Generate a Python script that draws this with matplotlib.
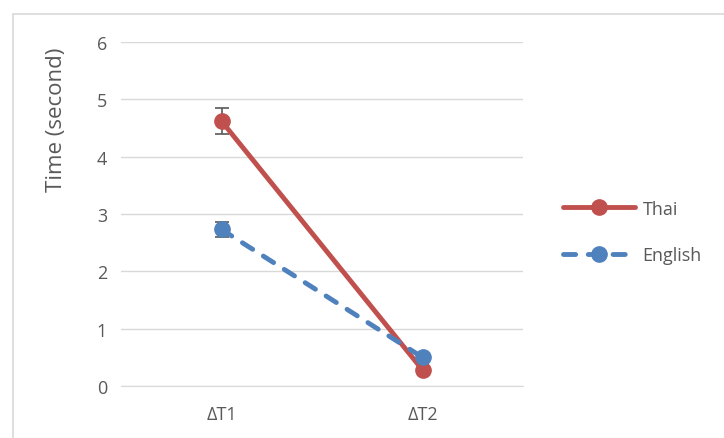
import matplotlib
matplotlib.use("Agg")
import matplotlib.pyplot as plt
from matplotlib.patches import Rectangle

categories = ["ΔT1", "ΔT2"]
thai = [4.62, 0.28]
thai_err = [0.23, 0.0]
english = [2.73, 0.50]
english_err = [0.13, 0.0]
yticks = [0, 1, 2, 3, 4, 5, 6]

plt.rcParams['font.family'] = ['Open Sans', 'DejaVu Sans']
gray = "#595959"
red = "#c0504d"
blue = "#4f81bd"

fig = plt.figure(figsize=(7.24, 4.39), dpi=100)
W, H = 724, 439
# chart frame
fig.patches.append(Rectangle((13 / W, -0.1), 2, (H - 15) / H + 0.1,
                             transform=fig.transFigure, fill=False,
                             edgecolor="#d9d9d9", linewidth=1.2))

ax = fig.add_axes([121 / W, 1 - 387 / H, (523 - 121) / W, (387 - 43) / H])
x = [0.5, 1.5]
ax.plot(x, thai, color=red, lw=3.5, marker="o", ms=11, label="Thai",
        solid_capstyle="round", zorder=3)
ax.errorbar(x, thai, yerr=thai_err, fmt="none", ecolor=gray, elinewidth=1.2,
            capsize=5, capthick=1.2, zorder=2)
ax.plot(x, english, color=blue, lw=3.5, ls=(0, (2.5, 2.6)), marker="o", ms=11,
        label="English", dash_capstyle="round", zorder=4)
ax.errorbar(x, english, yerr=english_err, fmt="none", ecolor=gray,
            elinewidth=1.2, capsize=5, capthick=1.2, zorder=2)

ax.set_xlim(0, 2)
ax.set_ylim(0, 6)
ax.set_yticks(yticks)
ax.set_xticks(x)
ax.set_xticklabels(categories)
ax.grid(axis="y", color="#d9d9d9", lw=1)
ax.set_axisbelow(True)
for s in ["left", "right", "top"]:
    ax.spines[s].set_visible(False)
ax.spines["bottom"].set_color("#d9d9d9")
ax.tick_params(axis="both", length=0, labelsize=13, colors=gray, pad=10)
ax.tick_params(axis="x", pad=14)
ax.set_ylabel("Time (second)", fontsize=16, color=gray)
ax.yaxis.set_label_coords((57 - 121) / (523 - 121), (387 - 120) / (387 - 43))
ax.yaxis.label.set_va("center")

ax.legend(loc="center left", bbox_to_anchor=(547 / W, 1 - 233 / H),
          bbox_transform=fig.transFigure,
          frameon=False, fontsize=13, labelcolor=gray, handlelength=4.0,
          handletextpad=0.4, labelspacing=1.6)

fig.savefig("out.png", dpi=100)
